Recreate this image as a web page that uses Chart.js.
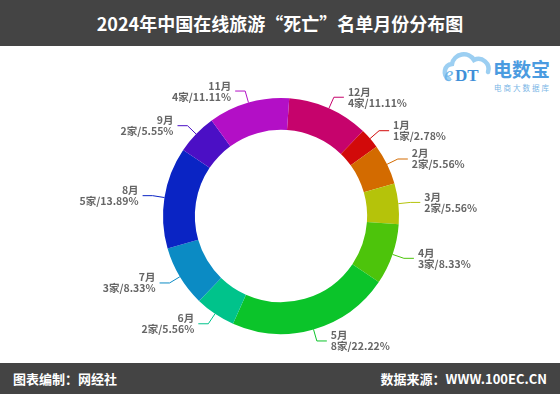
<!DOCTYPE html>
<html>
<head>
<meta charset="utf-8">
<script src="https://cdn.jsdelivr.net/npm/chart.js@4/dist/chart.umd.min.js"></script>
<style>
  html, body { margin: 0; padding: 0; background: #fff; }
  body { width: 560px; height: 394px; position: relative; overflow: hidden;
         font-family: "Microsoft YaHei", "Noto Sans CJK SC", sans-serif; }
  #hdr { position: absolute; left: 0; top: 0; width: 560px; height: 46px; background: #444444;
         color: #fff; font-weight: bold; font-size: 18px; line-height: 46px; text-align: center; }
  #ftr { position: absolute; left: 0; top: 363px; width: 560px; height: 31px; background: #444444;
         color: #fff; font-weight: bold; font-size: 13px; line-height: 31px; }
  #ftr .l { position: absolute; left: 13px; }
  #ftr .r { position: absolute; right: 13px; }
  #wrap { position: absolute; left: 0; top: 0; width: 560px; height: 394px; }
  #logo { position: absolute; left: 440px; top: 48px; }
</style>
</head>
<body>
<div id="hdr">2024年中国在线旅游“死亡”名单月份分布图</div>
<svg id="logo" width="120" height="50" viewBox="0 0 120 50">
  <path d="M9 31 A8 8 0 0 1 12 16 A12 12 0 0 1 34 12 A10 10 0 0 1 48 24"
        fill="none" stroke="#9ccff2" stroke-width="4.5" stroke-linecap="round"/>
  <text x="4" y="33" font-family="Liberation Serif, serif" font-size="21" fill="#6fb6ea" font-style="italic">e</text>
  <text x="15" y="33" font-family="Liberation Serif, serif" font-size="17" fill="#3f8fd8" font-weight="bold">DT</text>
  <text x="53" y="29" font-family="Noto Sans CJK SC, sans-serif" font-size="19" font-weight="bold" fill="#4a9be0">电数宝</text>
  <text x="54" y="43" font-family="Noto Sans CJK SC, sans-serif" font-size="7.5" fill="#7ab6e6" letter-spacing="2">电商大数据库</text>
</svg>
<div id="wrap"><canvas id="c" width="560" height="394"></canvas></div>
<div id="ftr"><span class="l">图表编制：网经社</span><span class="r">数据来源：WWW.100EC.CN</span></div>
<script>
const months = ["12月", "1月", "2月", "3月", "4月", "5月", "6月", "7月", "8月", "9月", "11月"];
const counts = [4, 1, 2, 2, 3, 8, 2, 3, 5, 2, 4];
const percentLabels = ["11.11%", "2.78%", "5.56%", "5.56%", "8.33%", "22.22%", "5.56%", "8.33%", "13.89%", "5.55%", "11.11%"];
const colors = ["#c6036c", "#d20a0a", "#d36b00", "#b5c30a", "#4dc40b", "#0bc42a", "#00c38b", "#0b8bc4", "#0a24c4", "#4b0fc5", "#b30fc6"];

const labelPlugin = {
  id: 'leaderLabels',
  afterDatasetsDraw(chart) {
    const ctx = chart.ctx;
    const meta = chart.getDatasetMeta(0);
    ctx.save();
    ctx.font = 'bold 10.5px "Microsoft YaHei", "Noto Sans CJK SC", sans-serif';
    ctx.textBaseline = 'middle';
    meta.data.forEach((arc, i) => {
      const p = arc.getProps(['x', 'y', 'startAngle', 'endAngle', 'outerRadius'], true);
      const mid = (p.startAngle + p.endAngle) / 2;
      const cos = Math.cos(mid), sin = Math.sin(mid);
      const len1 = 12, len2 = 10;
      const x0 = p.x + p.outerRadius * cos, y0 = p.y + p.outerRadius * sin;
      const x1 = p.x + (p.outerRadius + len1) * cos, y1 = p.y + (p.outerRadius + len1) * sin;
      const right = cos >= 0;
      const x2 = x1 + (right ? len2 : -len2);
      ctx.strokeStyle = colors[i];
      ctx.lineWidth = 1;
      ctx.beginPath();
      ctx.moveTo(x0, y0); ctx.lineTo(x1, y1); ctx.lineTo(x2, y1);
      ctx.stroke();
      ctx.fillStyle = '#666666';
      ctx.textAlign = right ? 'left' : 'right';
      const tx = x2 + (right ? 4 : -4);
      ctx.fillText(months[i], tx, y1 - 5.5);
      ctx.fillText(counts[i] + '家/' + percentLabels[i], tx, y1 + 5.5);
    });
    ctx.restore();
  }
};

new Chart(document.getElementById('c'), {
  type: 'doughnut',
  data: {
    labels: months,
    datasets: [{
      data: counts,
      backgroundColor: colors,
      borderWidth: 0
    }]
  },
  options: {
    responsive: false,
    animation: false,
    rotation: 4,
    cutout: '73%',
    layout: { padding: { left: 163, right: 161, top: 98, bottom: 60 } },
    plugins: { legend: { display: false }, tooltip: { enabled: false } }
  },
  plugins: [labelPlugin]
});
</script>
</body>
</html>
